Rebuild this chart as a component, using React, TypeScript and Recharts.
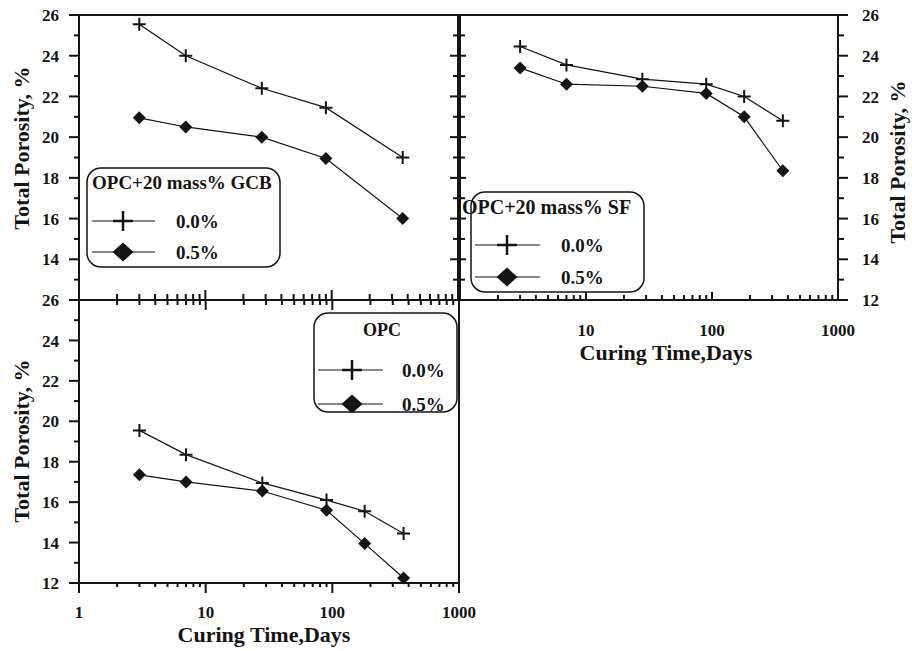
import React from 'react'
import { LineChart, Line, XAxis, YAxis, ReferenceArea } from 'recharts'

// curing age, days
const daysGCB = [3, 7, 28, 90, 365]
const days = [3, 7, 28, 90, 180, 365]

// total porosity, %
const gcbPlain = [25.55, 24.0, 22.4, 21.45, 19.0]
const gcbDosed = [20.95, 20.5, 20.0, 18.95, 16.0]
const sfPlain = [24.45, 23.55, 22.85, 22.6, 22.0, 20.8]
const sfDosed = [23.4, 22.6, 22.5, 22.15, 21.0, 18.35]
const opcPlain = [19.55, 18.35, 16.95, 16.1, 15.55, 14.45]
const opcDosed = [17.35, 17.0, 16.55, 15.6, 13.95, 12.25]

const seriesLabels = ['0.0%', '0.5%']

const xTicks = [1, 2, 3, 4, 5, 6, 7, 8, 9, 10, 20, 30, 40, 50, 60, 70, 80, 90, 100, 200, 300, 400, 500, 600, 700, 800, 900, 1000]
const xMajor = [1, 10, 100, 1000]
const yTicks = [12, 13, 14, 15, 16, 17, 18, 19, 20, 21, 22, 23, 24, 25, 26]
const yMajor = [12, 14, 16, 18, 20, 22, 24, 26]

const W = 912
const H = 651
const AX = 10
const INK = '#151515'
const FONT = "'Liberation Serif', 'Times New Roman', serif"

type Edge = { pos: number; a: number; b: number; major: number; minor: number }

const rows = (xs: number[], p: number[], q: number[]) =>
  xs.map((d, i) => ({ day: d, plain: p[i], dosed: q[i] }))

function yTick(edges: Edge[], labels: number[], labelX: number, anchor: 'start' | 'end') {
  return (p: any) => {
    const v = p.payload.value
    const big = yMajor.includes(v)
    return (
      <g key={`y${v}`}>
        {edges.map((e, i) => {
          const len = big ? e.major : e.minor
          return <line key={i} x1={e.pos + e.a * len} x2={e.pos + e.b * len} y1={p.y} y2={p.y} stroke={INK} strokeWidth={2} />
        })}
        {big && labels.includes(v) && (
          <text x={labelX} y={p.y} dy="0.36em" textAnchor={anchor} fontFamily={FONT} fontWeight="bold" fontSize={17} fill={INK}>
            {v}
          </text>
        )}
      </g>
    )
  }
}

function xTick(edges: Edge[], labels: number[], labelY: number) {
  return (p: any) => {
    const v = p.payload.value
    const big = xMajor.includes(v)
    return (
      <g key={`x${v}`}>
        {edges.map((e, i) => {
          const len = big ? e.major : e.minor
          return <line key={i} x1={p.x} x2={p.x} y1={e.pos + e.a * len} y2={e.pos + e.b * len} stroke={INK} strokeWidth={2} />
        })}
        {big && labels.includes(v) && (
          <text x={p.x} y={labelY} textAnchor="middle" fontFamily={FONT} fontWeight="bold" fontSize={17} fill={INK}>
            {v}
          </text>
        )}
      </g>
    )
  }
}

const plusDot = (r: number) => (p: any) => (
  <path key={`p${p.index}`} d={`M${p.cx - r},${p.cy}H${p.cx + r}M${p.cx},${p.cy - r}V${p.cy + r}`} stroke={INK} strokeWidth={2} fill="none" />
)
const diamondDot = (r: number) => (p: any) => (
  <path key={`d${p.index}`} d={`M${p.cx},${p.cy - r}L${p.cx + r},${p.cy}L${p.cx},${p.cy + r}L${p.cx - r},${p.cy}Z`} fill={INK} />
)

interface PanelProps {
  data: { day: number; plain: number; dosed: number }[]
  margin: { left: number; right: number; top: number; bottom: number }
  yOrient: 'left' | 'right'
  yRender: (p: any) => React.ReactElement
  xRender: (p: any) => React.ReactElement
}

function Panel({ data, margin, yOrient, yRender, xRender }: PanelProps) {
  return (
    <div style={{ position: 'absolute', left: 0, top: 0 }}>
      <LineChart width={W} height={H} data={data} margin={margin}>
        <XAxis dataKey="day" type="number" scale="log" domain={[1, 1000]} ticks={xTicks} interval={0}
          height={AX} tickSize={0} tickMargin={0} axisLine={false} tickLine={false} tick={xRender} />
        <YAxis type="number" domain={[12, 26]} ticks={yTicks} interval={0} orientation={yOrient}
          width={AX} tickSize={0} tickMargin={0} axisLine={false} tickLine={false} tick={yRender} />
        <ReferenceArea x1={1} x2={1000} y1={12} y2={26} fill="none" stroke={INK} strokeWidth={2} ifOverflow="visible" />
        <Line dataKey="plain" stroke={INK} strokeWidth={1.2} dot={plusDot(6.5)} activeDot={false} isAnimationActive={false} />
        <Line dataKey="dosed" stroke={INK} strokeWidth={1.2} dot={diamondDot(6.5)} activeDot={false} isAnimationActive={false} />
      </LineChart>
    </div>
  )
}

interface LegendSpec {
  box: [number, number, number, number]
  title: string
  tx: number
  ty: number
  anchor: 'start' | 'middle'
  tsize: number
  rowY: [number, number]
  line: [number, number]
  mark: number
  textX: number
}

function LegendBox({ s }: { s: LegendSpec }) {
  const [x, y, w, h] = s.box
  return (
    <g>
      <rect x={x} y={y} width={w} height={h} rx={14} ry={14} fill="#fff" stroke={INK} strokeWidth={1.5} />
      <text x={s.tx} y={s.ty} textAnchor={s.anchor} fontSize={s.tsize} fontFamily={FONT} fontWeight="bold" fill={INK}>{s.title}</text>
      {s.rowY.map((ry, i) => (
        <g key={i}>
          <line x1={s.line[0]} x2={s.line[1]} y1={ry} y2={ry} stroke={INK} strokeWidth={1.2} />
          {i === 0
            ? <path d={`M${s.mark - 10},${ry}H${s.mark + 10}M${s.mark},${ry - 10}V${ry + 10}`} stroke={INK} strokeWidth={2.5} />
            : <path d={`M${s.mark},${ry - 9.5}L${s.mark + 10.5},${ry}L${s.mark},${ry + 9.5}L${s.mark - 10.5},${ry}Z`} fill={INK} />}
          <text x={s.textX} y={ry + 6.5} fontSize={19} fontFamily={FONT} fontWeight="bold" fill={INK}>{seriesLabels[i]}</text>
        </g>
      ))}
    </g>
  )
}

const legends: LegendSpec[] = [
  { box: [87, 168, 193, 99], title: 'OPC+20 mass% GCB', tx: 92, ty: 189, anchor: 'start', tsize: 19, rowY: [221, 252], line: [92, 155], mark: 123, textX: 176 },
  { box: [471, 192, 173, 100], title: 'OPC+20 mass% SF', tx: 462, ty: 214, anchor: 'start', tsize: 20, rowY: [245, 277], line: [475, 540], mark: 507, textX: 561 },
  { box: [314, 313, 143, 99], title: 'OPC', tx: 382, ty: 336, anchor: 'middle', tsize: 18, rowY: [370, 404], line: [318, 383], mark: 352, textX: 402 },
]

export default function App() {
  const title = { fontFamily: FONT, fontWeight: 'bold' as const, fontSize: 22, fill: INK, textAnchor: 'middle' as const }
  return (
    <div style={{ position: 'absolute', left: 0, top: 0, width: W, height: H, background: '#fff' }}>
      {/* top-left: GCB */}
      <Panel
        data={rows(daysGCB, gcbPlain, gcbDosed)}
        margin={{ left: 79 - AX, right: W - 458, top: 15, bottom: H - 300 - AX }}
        yOrient="left"
        yRender={yTick([{ pos: 79, a: -1, b: 0, major: 10, minor: 5 }, { pos: 458, a: -1, b: 0, major: 8, minor: 5 }], [14, 16, 18, 20, 22, 24, 26], 59, 'end')}
        xRender={xTick([{ pos: 300, a: -1, b: 0, major: 10, minor: 6 }], [], 0)}
      />
      {/* top-right: SF */}
      <Panel
        data={rows(days, sfPlain, sfDosed)}
        margin={{ left: 460, right: W - 838 - AX, top: 15, bottom: H - 300 - AX }}
        yOrient="right"
        yRender={yTick([{ pos: 838, a: 0, b: 1, major: 10, minor: 6 }, { pos: 460, a: 0, b: 1, major: 6, minor: 5 }], yMajor, 862, 'start')}
        xRender={xTick([{ pos: 300, a: -1, b: 0, major: 8, minor: 5 }], [10, 100, 1000], 336)}
      />
      {/* bottom-left: plain OPC */}
      <Panel
        data={rows(days, opcPlain, opcDosed)}
        margin={{ left: 79 - AX, right: W - 459, top: 300, bottom: H - 583 - AX }}
        yOrient="left"
        yRender={yTick([{ pos: 79, a: -1, b: 0, major: 10, minor: 5 }], yMajor, 59, 'end')}
        xRender={xTick([{ pos: 583, a: 0, b: 1, major: 10, minor: 4 }, { pos: 300, a: 0, b: 1, major: 10, minor: 5 }], xMajor, 618)}
      />
      <svg width={W} height={H} style={{ position: 'absolute', left: 0, top: 0, pointerEvents: 'none' }}>
        <text {...title} transform="translate(29,148) rotate(-90)">Total Porosity, %</text>
        <text {...title} transform="translate(29,441) rotate(-90)">Total Porosity, %</text>
        <text {...title} transform="translate(905,162) rotate(-90)">Total Porosity, %</text>
        <text {...title} x={264} y={642}>Curing Time,Days</text>
        <text {...title} x={666} y={360}>Curing Time,Days</text>
        {legends.map((s) => <LegendBox key={s.title} s={s} />)}
      </svg>
    </div>
  )
}
